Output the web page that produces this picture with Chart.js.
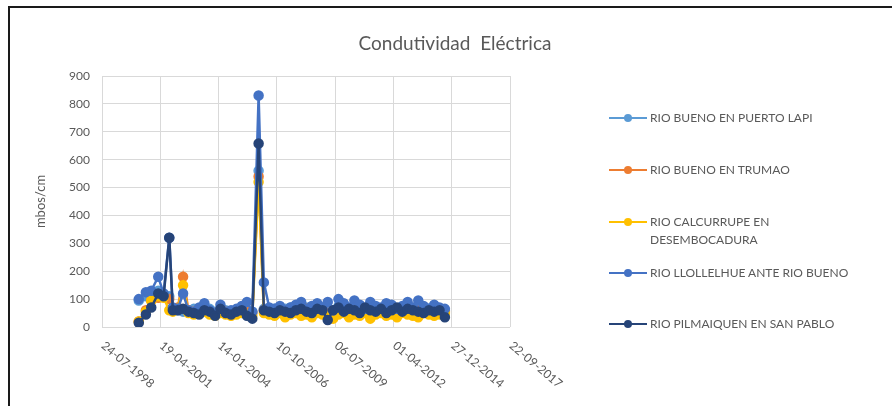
<!DOCTYPE html>
<html>
<head>
<meta charset="utf-8">
<script src="https://cdn.jsdelivr.net/npm/chart.js@4.4.1/dist/chart.umd.min.js"></script>
<style>
    body { margin: 0; background: #fff; font-family: Lato, "Liberation Sans", sans-serif; }
    #wrap { position: relative; width: 892px; height: 406px; overflow: hidden; }
    #frame { position: absolute; left: 8px; top: 6px; width: 900px; height: 420px; border-left: 2px solid #1a1a1a; border-top: 2px solid #1a1a1a; }
    #c { position: absolute; left: 0; top: 0; }
    #title { position: absolute; left: 0; width: 910px; top: 31px; text-align: center; font-size: 19px; color: #595959; white-space: pre; }
    .leg-item { position: absolute; left: 609px; font-size: 12px; color: #595959; line-height: 18px; }
    .leg-line { position: absolute; left: 0; top: 8px; width: 38px; height: 2px; }
    .leg-dot { position: absolute; left: 15px; top: 5px; width: 8px; height: 8px; border-radius: 50%; }
    .leg-text { position: absolute; left: 41px; top: 0; width: 240px; }
</style>
</head>
<body>
<div id="wrap">
    <div id="frame"></div>
    <canvas id="c" width="892" height="406"></canvas>
    <div id="title">Condutividad  Eléctrica</div>
    <div id="legend"></div>
</div>
<script>
const seriesNames = [
    "RIO BUENO EN PUERTO LAPI",
    "RIO BUENO EN TRUMAO",
    "RIO CALCURRUPE EN DESEMBOCADURA",
    "RIO LLOLLELHUE ANTE RIO BUENO",
    "RIO PILMAIQUEN EN SAN PABLO",
];
const seriesColors = ["#5b9bd5", "#ed7d31", "#ffc000", "#4472c4", "#264478"];

const sampleDates = [
    "2000-04-15", "2000-08-15", "2000-11-15", "2001-03-15", "2001-06-15", "2001-09-20", "2001-11-20", "2002-02-15",
    "2002-05-15", "2002-08-15", "2002-11-15", "2003-02-15", "2003-05-15", "2003-08-15", "2003-11-15", "2004-02-15",
    "2004-05-15", "2004-08-15", "2004-11-15", "2005-02-15", "2005-05-15", "2005-08-15", "2005-12-01", "2006-03-01",
    "2006-06-01", "2006-09-01", "2006-12-01", "2007-03-01", "2007-06-01", "2007-09-01", "2007-12-01", "2008-03-01",
    "2008-06-01", "2008-09-01", "2008-12-01", "2009-03-01", "2009-06-01", "2009-09-01", "2009-12-01", "2010-03-01",
    "2010-06-01", "2010-09-01", "2010-12-01", "2011-03-01", "2011-06-01", "2011-09-01", "2011-12-01", "2012-03-01",
    "2012-06-01", "2012-09-01", "2012-12-01", "2013-03-01", "2013-06-01", "2013-09-01", "2013-12-01", "2014-03-01",
    "2014-06-01", "2014-09-01",
];

const puertoLapi = [95, 110, 120, 130, 115, 110, 65, 60, 55, 60, 65, 55, 60, 65, 55, 60, 60, 55, 60, 65,
    60, 55, 560, 65, 60, 65, 60, 65, 70, 60, 65, 70, 60, 65, 70, 65, 60, 75, 70, 60,
    65, 70, 65, 60, 70, 65, 60, 70, 65, 60, 70, 65, 60, 70, 65, 60, 65, 60];
const trumao = [20, 60, 95, 105, 110, 100, 60, 70, 180, 60, 55, 60, 65, 55, 50, 60, 55, 50, 55, 60,
    55, 50, 540, 60, 55, 60, 55, 60, 65, 55, 60, 65, 55, 60, 65, 45, 60, 65, 55, 60,
    65, 55, 60, 65, 55, 60, 65, 55, 60, 65, 55, 60, 65, 55, 60, 55, 60, 55];
const calcurrupe = [20, 55, 95, 110, 105, 60, 55, 65, 150, 50, 45, 50, 55, 45, 40, 50, 45, 40, 45, 50,
    45, 40, 520, 50, 45, 40, 50, 35, 45, 50, 40, 45, 35, 50, 45, 40, 30, 45, 50, 35,
    45, 40, 50, 30, 45, 50, 40, 45, 35, 50, 45, 40, 35, 50, 45, 40, 45, 50];
const llollelhue = [100, 125, 130, 180, 120, 320, 70, 65, 120, 60, 55, 70, 85, 60, 50, 80, 55, 60, 65, 75,
    90, 55, 830, 160, 70, 65, 75, 60, 70, 80, 90, 65, 75, 85, 70, 90, 60, 100, 85, 70,
    95, 80, 65, 90, 75, 70, 85, 80, 65, 75, 90, 70, 95, 75, 65, 80, 70, 65];
const pilmaiquen = [15, 45, 70, 120, 110, 320, 60, 60, 65, 55, 50, 45, 60, 55, 40, 65, 50, 45, 55, 60,
    40, 30, 658, 60, 55, 50, 60, 55, 50, 60, 65, 55, 50, 65, 60, 25, 60, 70, 55, 65,
    60, 50, 70, 60, 55, 65, 50, 60, 70, 55, 65, 60, 55, 50, 60, 55, 60, 35];

const allSeries = [puertoLapi, trumao, calcurrupe, llollelhue, pilmaiquen];

// eje x: dias desde el primer tick (24-07-1998), un tick cada 1000 dias
const axisStart = "1998-07-24";
const xTickLabels = ["24-07-1998", "19-04-2001", "14-01-2004", "10-10-2006", "06-07-2009", "01-04-2012", "27-12-2014", "22-09-2017"];
const yTitle = "mbos/cm";

const dayMs = 86400000;
const toDays = d => Math.round((Date.parse(d) - Date.parse(axisStart)) / dayMs);

const gray = "#595959";
const gridColor = "#d9d9d9";

const rotatedXLabels = {
    id: "rotatedXLabels",
    afterDraw(chart) {
        const s = chart.scales.x;
        const ctx = chart.ctx;
        ctx.save();
        ctx.fillStyle = gray;
        ctx.font = "12px Lato, 'Liberation Sans', sans-serif";
        ctx.textAlign = "left";
        ctx.textBaseline = "middle";
        s.ticks.forEach((t, i) => {
            const px = s.getPixelForValue(t.value);
            ctx.save();
            ctx.translate(px + 1, chart.chartArea.bottom + 17);
            ctx.rotate(40 * Math.PI / 180);
            ctx.fillText(xTickLabels[i] || "", 0, 0);
            ctx.restore();
        });
        ctx.restore();
    },
};

const datasets = allSeries.map((vals, i) => ({
    label: seriesNames[i],
    data: vals.map((v, j) => ({ x: toDays(sampleDates[j]), y: v })),
    borderColor: seriesColors[i],
    backgroundColor: seriesColors[i],
    pointBackgroundColor: seriesColors[i],
    pointBorderColor: seriesColors[i],
    pointRadius: 4,
    borderWidth: 2.5,
    tension: 0,
    order: allSeries.length - i,
}));

new Chart(document.getElementById("c"), {
    type: "line",
    data: { datasets },
    options: {
        responsive: false,
        animation: false,
        layout: { padding: { left: 33, top: 76, right: 382, bottom: 0 } },
        plugins: { legend: { display: false }, tooltip: { enabled: false } },
        scales: {
            x: {
                type: "linear",
                min: 0,
                max: 7000,
                ticks: { stepSize: 1000, display: false },
                grid: { color: gridColor, drawTicks: false },
                border: { display: false },
                afterFit: s => { s.height = 79; },
            },
            y: {
                min: 0,
                max: 900,
                ticks: { stepSize: 100, color: gray, padding: 12, font: { size: 12, family: "Lato, 'Liberation Sans', sans-serif" } },
                grid: { color: gridColor, drawTicks: false },
                border: { display: false },
                title: { display: true, text: yTitle, color: gray, padding: 0, font: { size: 13, family: "Lato, 'Liberation Sans', sans-serif" } },
                afterFit: s => { s.width = 69; },
            },
        },
    },
    plugins: [rotatedXLabels],
});

// leyenda a la derecha
const legendTops = [109, 161, 213, 264, 315];
const legendLabels = ["RIO BUENO EN PUERTO LAPI", "RIO BUENO EN TRUMAO", "RIO CALCURRUPE EN<br>DESEMBOCADURA", "RIO LLOLLELHUE ANTE RIO BUENO", "RIO PILMAIQUEN EN SAN PABLO"];
document.getElementById("legend").innerHTML = seriesNames.map((n, i) => `
    <div class="leg-item" style="top:${legendTops[i]}px">
        <div class="leg-line" style="background:${seriesColors[i]}"></div>
        <div class="leg-dot" style="background:${seriesColors[i]}"></div>
        <div class="leg-text">${legendLabels[i]}</div>
    </div>
`).join("");
</script>
</body>
</html>
